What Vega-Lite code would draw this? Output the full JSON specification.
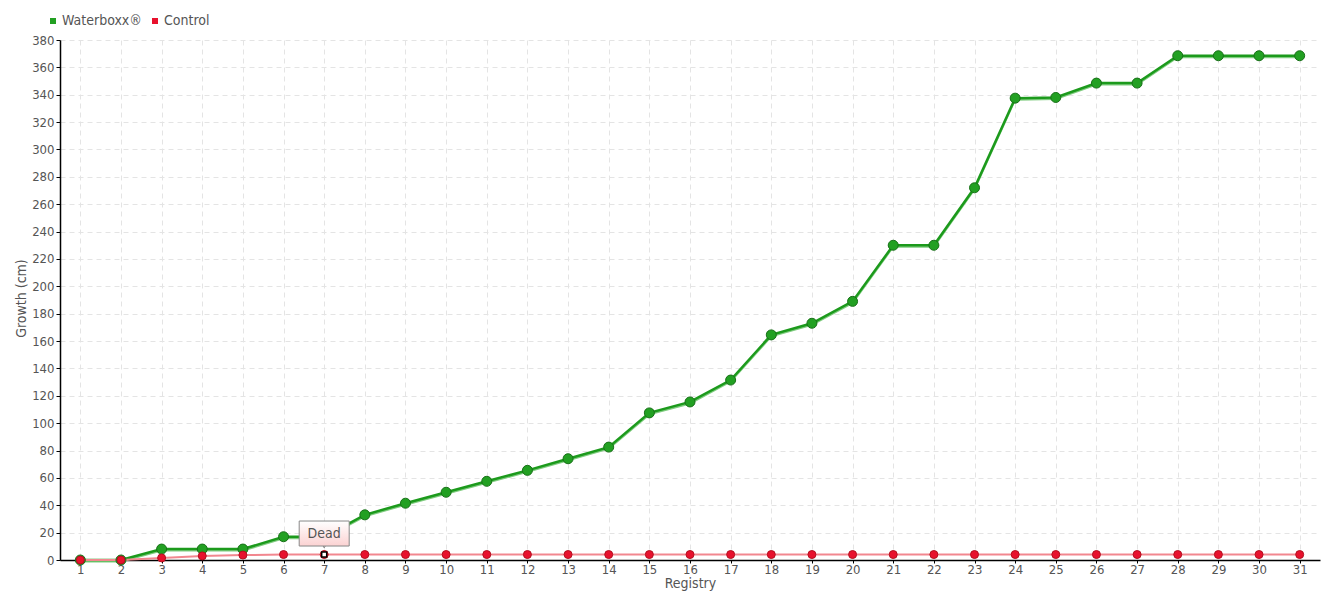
{
  "$schema": "https://vega.github.io/schema/vega-lite/v6.json",
  "width": 1260,
  "height": 520,
  "autosize": {"type": "none"},
  "padding": {"left": 60, "top": 40, "right": 20, "bottom": 40},
  "background": "white",
  "config": {
    "font": "DejaVu Sans Condensed",
    "view": {"stroke": null},
    "axis": {
      "labelColor": "#555555",
      "titleColor": "#555555",
      "labelFontSize": 14,
      "titleFontSize": 14,
      "titleFontWeight": "normal",
      "domainColor": "#000000",
      "domainWidth": 1.5,
      "tickColor": "#000000",
      "tickSize": 4,
      "gridColor": "#e4e4e4",
      "gridDash": [5, 4],
      "gridWidth": 1
    }
  },
  "datasets": {
    "growth": [
      {"reg": 1, "series": "Waterboxx®", "value": 0},
      {"reg": 2, "series": "Waterboxx®", "value": 0},
      {"reg": 3, "series": "Waterboxx®", "value": 8},
      {"reg": 4, "series": "Waterboxx®", "value": 8},
      {"reg": 5, "series": "Waterboxx®", "value": 8},
      {"reg": 6, "series": "Waterboxx®", "value": 17},
      {"reg": 7, "series": "Waterboxx®", "value": 17},
      {"reg": 8, "series": "Waterboxx®", "value": 33},
      {"reg": 9, "series": "Waterboxx®", "value": 41.5},
      {"reg": 10, "series": "Waterboxx®", "value": 49.5},
      {"reg": 11, "series": "Waterboxx®", "value": 57.5},
      {"reg": 12, "series": "Waterboxx®", "value": 65.5},
      {"reg": 13, "series": "Waterboxx®", "value": 74},
      {"reg": 14, "series": "Waterboxx®", "value": 82.5},
      {"reg": 15, "series": "Waterboxx®", "value": 107.5},
      {"reg": 16, "series": "Waterboxx®", "value": 115.5},
      {"reg": 17, "series": "Waterboxx®", "value": 131.5},
      {"reg": 18, "series": "Waterboxx®", "value": 164.5},
      {"reg": 19, "series": "Waterboxx®", "value": 173},
      {"reg": 20, "series": "Waterboxx®", "value": 189},
      {"reg": 21, "series": "Waterboxx®", "value": 230},
      {"reg": 22, "series": "Waterboxx®", "value": 230},
      {"reg": 23, "series": "Waterboxx®", "value": 272},
      {"reg": 24, "series": "Waterboxx®", "value": 337.5},
      {"reg": 25, "series": "Waterboxx®", "value": 338},
      {"reg": 26, "series": "Waterboxx®", "value": 348.5},
      {"reg": 27, "series": "Waterboxx®", "value": 348.5},
      {"reg": 28, "series": "Waterboxx®", "value": 368.5},
      {"reg": 29, "series": "Waterboxx®", "value": 368.5},
      {"reg": 30, "series": "Waterboxx®", "value": 368.5},
      {"reg": 31, "series": "Waterboxx®", "value": 368.5},
      {"reg": 1, "series": "Control", "value": 0},
      {"reg": 2, "series": "Control", "value": 0},
      {"reg": 3, "series": "Control", "value": 1.5},
      {"reg": 4, "series": "Control", "value": 3},
      {"reg": 5, "series": "Control", "value": 3.6},
      {"reg": 6, "series": "Control", "value": 4},
      {"reg": 7, "series": "Control", "value": 4},
      {"reg": 8, "series": "Control", "value": 4},
      {"reg": 9, "series": "Control", "value": 4},
      {"reg": 10, "series": "Control", "value": 4},
      {"reg": 11, "series": "Control", "value": 4},
      {"reg": 12, "series": "Control", "value": 4},
      {"reg": 13, "series": "Control", "value": 4},
      {"reg": 14, "series": "Control", "value": 4},
      {"reg": 15, "series": "Control", "value": 4},
      {"reg": 16, "series": "Control", "value": 4},
      {"reg": 17, "series": "Control", "value": 4},
      {"reg": 18, "series": "Control", "value": 4},
      {"reg": 19, "series": "Control", "value": 4},
      {"reg": 20, "series": "Control", "value": 4},
      {"reg": 21, "series": "Control", "value": 4},
      {"reg": 22, "series": "Control", "value": 4},
      {"reg": 23, "series": "Control", "value": 4},
      {"reg": 24, "series": "Control", "value": 4},
      {"reg": 25, "series": "Control", "value": 4},
      {"reg": 26, "series": "Control", "value": 4},
      {"reg": 27, "series": "Control", "value": 4},
      {"reg": 28, "series": "Control", "value": 4},
      {"reg": 29, "series": "Control", "value": 4},
      {"reg": 30, "series": "Control", "value": 4},
      {"reg": 31, "series": "Control", "value": 4}
    ],
    "note": [{"reg": 7, "value": 4, "label": "Dead"}]
  },
  "encoding": {
    "x": {
      "field": "reg",
      "type": "ordinal",
      "sort": "ascending",
      "scale": {"type": "point", "padding": 0.5},
      "axis": {"title": "Registry", "labelAngle": 0, "labelFontSize": 13, "labelPadding": 0, "titlePadding": 0, "tickSize": 3, "grid": true}
    },
    "y": {
      "field": "value",
      "type": "quantitative",
      "scale": {"domain": [0, 380], "nice": false},
      "axis": {"title": "Growth (cm)", "values": [0,20,40,60,80,100,120,140,160,180,200,220,240,260,280,300,320,340,360,380], "labelFontSize": 13, "labelPadding": 2, "titleX": -32, "titleY": 258, "titleBaseline": "bottom", "grid": true}
    }
  },
  "layer": [
    {
      "data": {"name": "growth"},
      "transform": [{"filter": "datum.series === 'Waterboxx®'"}],
      "mark": {"type": "line", "color": "#7fcc7f", "strokeWidth": 2, "yOffset": 1.5},
      "encoding": {}
    },
    {
      "data": {"name": "growth"},
      "transform": [{"filter": "datum.series === 'Waterboxx®'"}],
      "mark": {"type": "line", "color": "#1c9a1c", "strokeWidth": 2.5},
      "encoding": {}
    },
    {
      "data": {"name": "growth"},
      "transform": [{"filter": "datum.series === 'Control'"}],
      "mark": {"type": "line", "color": "#f2878f", "strokeWidth": 2},
      "encoding": {}
    },
    {
      "data": {"name": "growth"},
      "mark": {"type": "point", "filled": true, "opacity": 1, "strokeWidth": 1},
      "encoding": {
        "order": {"field": "series", "sort": "descending"},
        "fill": {
          "field": "series",
          "type": "nominal",
          "scale": {"domain": ["Waterboxx®", "Control"], "range": ["#22a022", "#e8112d"]},
          "legend": {
            "title": null,
            "orient": "none",
            "legendX": -14,
            "legendY": -26,
            "direction": "horizontal",
            "symbolType": "square",
            "symbolSize": 36,
            "symbolStrokeWidth": 0,
            "labelFontSize": 14,
            "labelColor": "#555555",
            "labelOffset": 2,
            "columnPadding": 6
          }
        },
        "stroke": {
          "condition": {"test": "datum.series === 'Control'", "value": "#b3101f"},
          "value": "#187018"
        },
        "size": {
          "condition": {"test": "datum.series === 'Control'", "value": 64},
          "value": 100
        }
      }
    },
    {
      "data": {"name": "note"},
      "mark": {"type": "point", "shape": "triangle-down", "size": 60, "filled": true, "fill": "#fde0e0", "stroke": "#888888", "strokeWidth": 1, "yOffset": -10, "opacity": 1},
      "encoding": {}
    },
    {
      "data": {"name": "note"},
      "mark": {
        "type": "rect",
        "width": 50,
        "height": 25,
        "yOffset": -21,
        "stroke": "#888888",
        "strokeWidth": 1,
        "fill": {"gradient": "linear", "x1": 0, "y1": 0, "x2": 0, "y2": 1, "stops": [{"offset": 0, "color": "#ffffff"}, {"offset": 1, "color": "#fbd2d2"}]}
      },
      "encoding": {}
    },
    {
      "data": {"name": "note"},
      "mark": {"type": "text", "fontSize": 14, "color": "#555555", "yOffset": -21, "baseline": "middle", "align": "center"},
      "encoding": {"text": {"field": "label"}}
    },
    {
      "data": {"name": "note"},
      "mark": {"type": "point", "shape": "square", "size": 25, "filled": true, "fill": "#ffffff", "stroke": "#000000", "strokeWidth": 1.5, "opacity": 1},
      "encoding": {}
    }
  ]
}
